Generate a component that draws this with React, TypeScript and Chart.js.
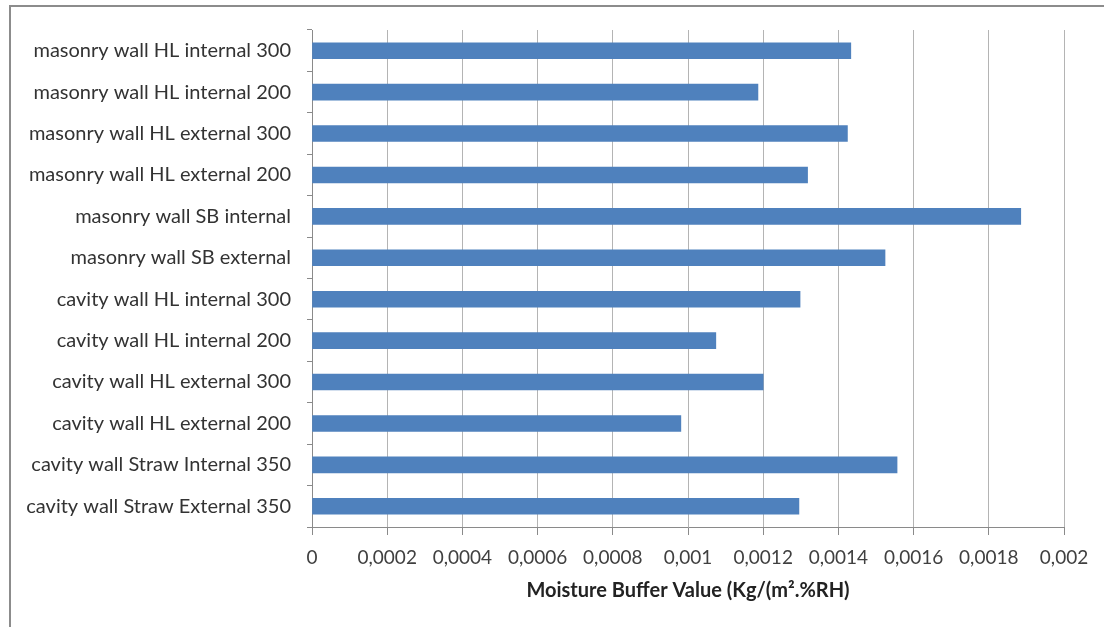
import { useEffect, useRef } from "react";
import { Chart, registerables } from "chart.js";

Chart.register(...registerables);

// Wall build-ups, listed top to bottom
const wallLabels = [
  "masonry wall HL internal 300",
  "masonry wall HL internal 200",
  "masonry wall HL external 300",
  "masonry wall HL external 200",
  "masonry wall SB internal",
  "masonry wall SB external",
  "cavity wall HL internal 300",
  "cavity wall HL internal 200",
  "cavity wall HL external 300",
  "cavity wall HL external 200",
  "cavity wall Straw Internal 350",
  "cavity wall Straw External 350",
];

// Moisture buffer value per build-up, Kg/(m².%RH)
const mbvValues = [
  0.001433, 0.001186, 0.001424, 0.001318, 0.001885, 0.001524,
  0.001298, 0.001074, 0.0012, 0.000981, 0.001556, 0.001295,
];

const xTickLabels = [
  "0", "0,0002", "0,0004", "0,0006", "0,0008", "0,001",
  "0,0012", "0,0014", "0,0016", "0,0018", "0,002",
];

const axisTitle = "Moisture Buffer Value (Kg/(m².%RH)";

const FONT = "Lato, 'Open Sans', sans-serif";

const framePlugin = {
  id: "frame",
  beforeDraw(chart: any) {
    const { ctx, width, height } = chart;
    ctx.save();
    ctx.fillStyle = "#ffffff";
    ctx.fillRect(0, 0, width, height);
    ctx.strokeStyle = "#8c8c8c";
    ctx.lineWidth = 2;
    ctx.beginPath();
    ctx.moveTo(10, height + 2);
    ctx.lineTo(10, 6);
    ctx.lineTo(width + 2, 6);
    ctx.stroke();
    ctx.restore();
  },
};

export default function App() {
  const canvasRef = useRef<HTMLCanvasElement | null>(null);

  useEffect(() => {
    const canvas = canvasRef.current;
    if (!canvas) return;
    const chart = new Chart(canvas, {
      type: "bar",
      data: {
        labels: wallLabels,
        datasets: [
          {
            data: mbvValues,
            backgroundColor: "#4F81BD",
            borderWidth: 0,
            barThickness: 16,
          },
        ],
      },
      options: {
        indexAxis: "y",
        responsive: false,
        animation: false,
        layout: { padding: { left: 0, right: 40, top: 30, bottom: 0 } },
        plugins: {
          legend: { display: false },
          tooltip: { enabled: false },
        },
        scales: {
          x: {
            type: "linear",
            min: 0,
            max: 0.002,
            ticks: {
              stepSize: 0.0002,
              padding: 11,
              color: "#404040",
              font: { family: FONT, size: 19 },
              callback: (_v: any, i: number) => xTickLabels[i] ?? "",
            },
            grid: {
              color: "#b4b4b4",
              lineWidth: 1,
              tickLength: 8,
              tickColor: "#8a8a8a",
            },
            border: { color: "#8a8a8a", width: 1 },
            title: {
              display: true,
              text: axisTitle,
              color: "#222222",
              font: { family: FONT, size: 20, weight: "bold" },
              padding: { top: 0, bottom: 24 },
            },
            afterFit: (scale: any) => {
              scale.height = 100;
            },
          },
          y: {
            type: "category",
            ticks: {
              padding: 16,
              color: "#333333",
              font: { family: FONT, size: 20 },
            },
            grid: {
              display: true,
              offset: true,
              drawOnChartArea: false,
              tickLength: 5,
              tickColor: "#8a8a8a",
            },
            border: { color: "#8a8a8a", width: 1 },
            afterFit: (scale: any) => {
              scale.width = 312;
            },
          },
        },
      },
      plugins: [framePlugin],
    });
    return () => chart.destroy();
  }, []);

  return (
    <div style={{ position: "absolute", left: 0, top: 0, width: 1104, height: 627 }}>
      <canvas ref={canvasRef} width={1104} height={627} />
    </div>
  );
}
